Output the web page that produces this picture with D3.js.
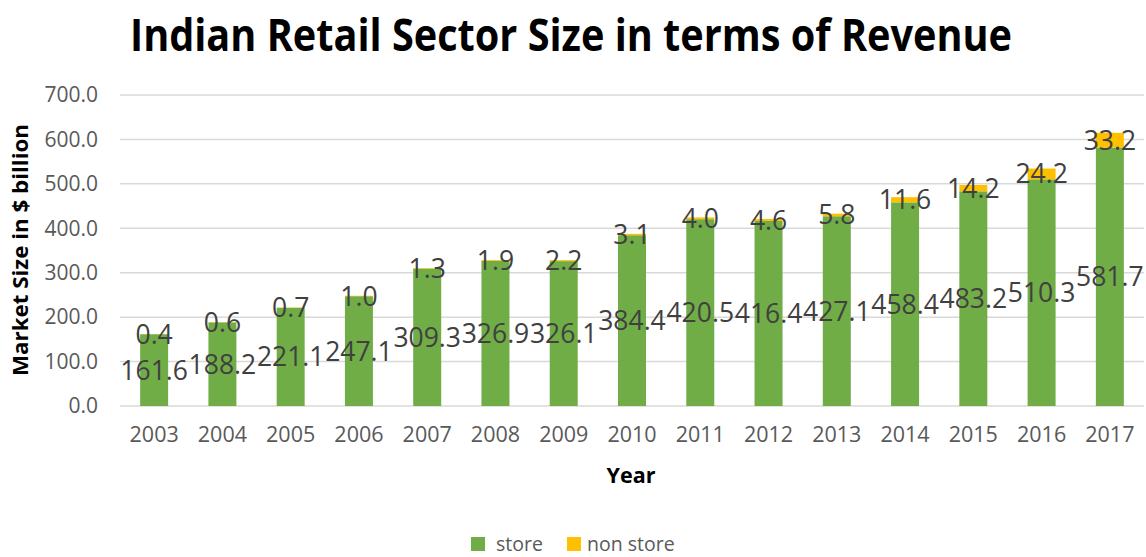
<!DOCTYPE html>
<html>
<head>
<meta charset="utf-8">
<script src="https://cdn.jsdelivr.net/npm/d3@7"></script>
<style>
  html, body { margin: 0; padding: 0; background: #fff; }
  svg { display: block; font-family: "Open Sans", "Liberation Sans", sans-serif; }
</style>
</head>
<body>
<svg id="chart" width="1146" height="557"></svg>
<script>
// Revenue of Indian retail, $ billion
const years = ["2003","2004","2005","2006","2007","2008","2009","2010","2011","2012","2013","2014","2015","2016","2017"];
const storeValues = [161.6,188.2,221.1,247.1,309.3,326.9,326.1,384.4,420.5,416.4,427.1,458.4,483.2,510.3,581.7];
const nonStoreValues = [0.4,0.6,0.7,1.0,1.3,1.9,2.2,3.1,4.0,4.6,5.8,11.6,14.2,24.2,33.2];
const yTicks = [0,100,200,300,400,500,600,700];
const seriesNames = ["store","non store"];
const seriesColors = ["#70AD47","#FFC000"];

const svg = d3.select("#chart");
const plot = { left: 120, right: 1144, top: 95, bottom: 406 };

const x = d3.scaleBand().domain(years).range([plot.left, plot.right]).paddingInner(0.59).paddingOuter(0.295);
const y = d3.scaleLinear().domain([0, 700]).range([plot.bottom, plot.top]);

// Title
svg.append("text")
  .attr("x", 571).attr("y", 51)
  .attr("text-anchor", "middle")
  .attr("font-size", 44).attr("font-weight", 700).attr("fill", "#000")
  .attr("textLength", 882).attr("lengthAdjust", "spacingAndGlyphs")
  .text("Indian Retail Sector Size in terms of Revenue");

// Gridlines
svg.append("g").selectAll("line").data(yTicks).join("line")
  .attr("x1", plot.left).attr("x2", plot.right)
  .attr("y1", d => y(d)).attr("y2", d => y(d))
  .attr("stroke", "#D9D9D9").attr("stroke-width", 1.5);

// Y axis labels
const yAxis = d3.axisLeft(y).tickValues(yTicks).tickFormat(d3.format(".1f")).tickSize(0).tickPadding(22);
const yg = svg.append("g").attr("transform", `translate(${plot.left},0)`).call(yAxis);
yg.select(".domain").remove();
yg.selectAll("text").attr("font-size", 21).attr("fill", "#595959").attr("font-family", "Open Sans");

// X axis labels
const xAxis = d3.axisBottom(x).tickSize(0).tickPadding(21);
const xg = svg.append("g").attr("transform", `translate(0,${plot.bottom})`).call(xAxis);
xg.select(".domain").remove();
xg.selectAll("text").attr("font-size", 21.5).attr("fill", "#595959").attr("font-family", "Open Sans");

// Stacked bars
const rows = years.map((yr, i) => ({ year: yr, store: storeValues[i], "non store": nonStoreValues[i] }));
const stack = d3.stack().keys(seriesNames)(rows);

const layers = svg.append("g").selectAll("g").data(stack).join("g")
  .attr("fill", (d, i) => seriesColors[i]);
layers.selectAll("rect").data(d => d).join("rect")
  .attr("x", d => x(d.data.year))
  .attr("width", x.bandwidth())
  .attr("y", d => y(d[1]))
  .attr("height", d => y(d[0]) - y(d[1]));

// Value labels centred in each segment
const labels = svg.append("g");
stack.forEach(layer => {
  labels.selectAll(null).data(layer).join("text")
    .attr("x", d => x(d.data.year) + x.bandwidth() / 2)
    .attr("y", d => (y(d[0]) + y(d[1])) / 2)
    .attr("dy", "0.36em")
    .attr("text-anchor", "middle")
    .attr("font-size", 26.5).attr("fill", "#404040")
    .text(d => (d[1] - d[0]).toFixed(1));
});

// Axis titles
svg.append("text")
  .attr("x", 631).attr("y", 483)
  .attr("text-anchor", "middle")
  .attr("font-size", 21).attr("font-weight", 700).attr("fill", "#000")
  .attr("textLength", 49).attr("lengthAdjust", "spacingAndGlyphs")
  .text("Year");

svg.append("text")
  .attr("transform", `translate(28,250) rotate(-90)`)
  .attr("text-anchor", "middle")
  .attr("font-size", 21).attr("font-weight", 700).attr("fill", "#000")
  .attr("textLength", 252).attr("lengthAdjust", "spacingAndGlyphs")
  .text("Market Size in $ billion");

// Legend
const legendX = [471, 567];
const legend = svg.append("g").selectAll("g").data(seriesNames).join("g")
  .attr("transform", (d, i) => `translate(${legendX[i]},537)`);
legend.append("rect").attr("width", 14).attr("height", 14).attr("fill", (d, i) => seriesColors[i]);
legend.append("text")
  .attr("x", (d, i) => i === 0 ? 25 : 20).attr("y", 13.5)
  .attr("font-size", 19.5).attr("fill", "#595959")
  .text(d => d);
</script>
</body>
</html>
